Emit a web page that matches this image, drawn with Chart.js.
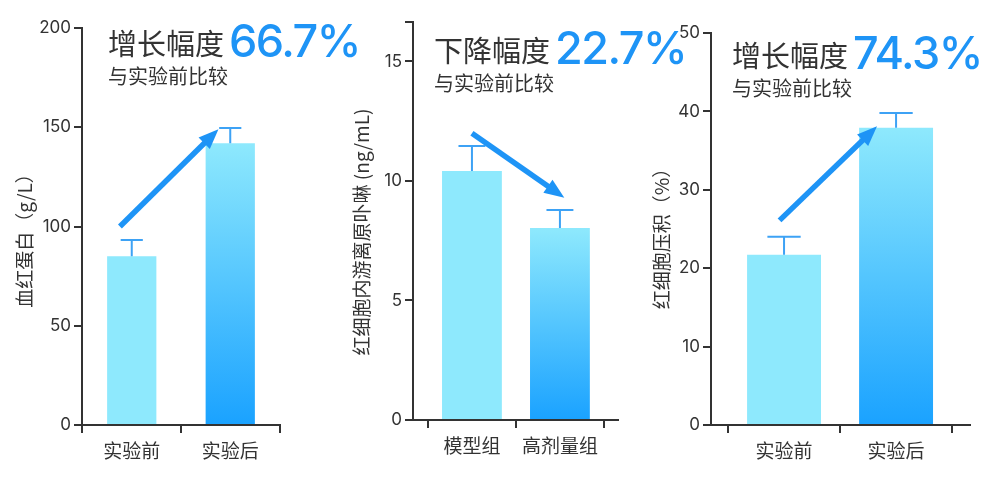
<!DOCTYPE html>
<html>
<head>
<meta charset="utf-8">
<script src="https://cdn.jsdelivr.net/npm/chart.js@4.4.0/dist/chart.umd.min.js"></script>
<style>
html,body{margin:0;padding:0;background:#fff;}
#wrap{position:relative;width:986px;height:478px;}
#wrap canvas{position:absolute;left:0;top:0;}
</style>
</head>
<body>
<div id="wrap">
  <canvas id="c1" width="986" height="478"></canvas>
  <canvas id="c2" width="986" height="478"></canvas>
  <canvas id="c3" width="986" height="478"></canvas>
</div>
<script>
// ===== DATA =====
const hbLabels = ['实验前', '实验后'];
const hbValues = [85, 142];
const hbErrors = [8.2, 7.6];
const hbTicks = [0, 50, 100, 150, 200];
const hbArrow = [[-0.12, 100], [0.88, 149]];

const zppLabels = ['模型组', '高剂量组'];
const zppValues = [10.42, 8.03];
const zppErrors = [1.04, 0.76];
const zppTicks = [0, 5, 10, 15];
const zppMax = 16.65;
const zppArrow = [[0, 12], [1.05, 9.3]];

const hctLabels = ['实验前', '实验后'];
const hctValues = [21.7, 37.9];
const hctErrors = [2.3, 1.9];
const hctTicks = [0, 10, 20, 30, 40, 50];
const hctArrow = [[-0.04, 26.1], [0.83, 38.1]];

// ===== STYLE =====
const LIGHT = '#8ee9fd';
const DEEP = '#1aa2ff';
const BLUE = '#1e94f6';
const INK = '#333333';
const FONT = "Inter, 'Noto Sans CJK SC', sans-serif";
const CJK = "'Noto Sans CJK SC', sans-serif";

Chart.defaults.font.family = FONT;
Chart.defaults.color = INK;

function barColor(c){
  if(c.dataIndex === 0) return LIGHT;
  const chart = c.chart;
  if(!chart.chartArea) return DEEP;
  const y = chart.scales.y;
  const top = y.getPixelForValue(c.raw.y);
  const g = chart.ctx.createLinearGradient(0, top, 0, y.getPixelForValue(0));
  g.addColorStop(0, LIGHT);
  g.addColorStop(1, DEEP);
  return g;
}

// error bars, arrow, headline, axis title
const decor = {
  id: 'decor',
  afterDatasetsDraw(chart, args, o){
    const ctx = chart.ctx;
    const xs = chart.scales.x, ys = chart.scales.y;
    const meta = chart.getDatasetMeta(0);

    // error bars
    ctx.save();
    ctx.strokeStyle = '#3da2f5';
    ctx.lineWidth = 2;
    meta.data.forEach((bar, i) => {
      const v = o.values[i] + o.errors[i];
      const yTop = ys.getPixelForValue(v);
      const cap = bar.width * 0.45;
      ctx.beginPath();
      ctx.moveTo(bar.x, bar.y);
      ctx.lineTo(bar.x, yTop);
      ctx.moveTo(bar.x - cap/2, yTop);
      ctx.lineTo(bar.x + cap/2, yTop);
      ctx.stroke();
    });
    ctx.restore();

    // arrow
    const x1 = xs.getPixelForValue(o.arrow[0][0]), y1 = ys.getPixelForValue(o.arrow[0][1]);
    const x2 = xs.getPixelForValue(o.arrow[1][0]), y2 = ys.getPixelForValue(o.arrow[1][1]);
    const ang = Math.atan2(y2 - y1, x2 - x1);
    const head = 20, half = 8;
    const bx = x2 - head * Math.cos(ang), by = y2 - head * Math.sin(ang);
    ctx.save();
    ctx.strokeStyle = BLUE;
    ctx.fillStyle = BLUE;
    ctx.lineWidth = 5.5;
    ctx.beginPath();
    ctx.moveTo(x1, y1);
    ctx.lineTo(bx + 4*Math.cos(ang), by + 4*Math.sin(ang));
    ctx.stroke();
    ctx.beginPath();
    ctx.moveTo(x2, y2);
    ctx.lineTo(bx + half*Math.sin(ang), by - half*Math.cos(ang));
    ctx.lineTo(bx - half*Math.sin(ang), by + half*Math.cos(ang));
    ctx.closePath();
    ctx.fill();
    ctx.restore();

    // headline
    ctx.save();
    ctx.textBaseline = 'alphabetic';
    ctx.textAlign = 'left';
    ctx.fillStyle = INK;
    ctx.font = '29px ' + CJK;
    ctx.fillText(o.title, o.tx, o.ty);
    const w = ctx.measureText(o.title).width;
    ctx.fillStyle = BLUE;
    ctx.font = '500 45px ' + FONT;
    ctx.letterSpacing = '-1.5px';
    ctx.fillText(o.pct, o.tx + w + 5, o.ty + 2);
    ctx.letterSpacing = '0px';
    ctx.fillStyle = INK;
    ctx.font = '20px ' + CJK;
    ctx.fillText('与实验前比较', o.tx, o.ty + 29);
    ctx.restore();

    // rotated y-axis title
    ctx.save();
    ctx.translate(o.yTitleX, o.yTitleY);
    ctx.rotate(-Math.PI / 2);
    ctx.textAlign = 'center';
    ctx.textBaseline = 'middle';
    ctx.fillStyle = INK;
    ctx.font = '19px ' + CJK;
    ctx.fillText(o.yTitle, 0, 0);
    ctx.restore();
  }
};

function makePanel(id, p){
  return new Chart(document.getElementById(id), {
    type: 'bar',
    data: {
      datasets: [{
        data: p.values.map((v, i) => ({x: i, y: v})),
        backgroundColor: barColor,
        borderWidth: 0,
        barPercentage: 1,
        categoryPercentage: p.barPct
      }]
    },
    options: {
      responsive: false,
      animation: false,
      events: [],
      layout: { padding: { left: p.left, right: 986 - p.right, top: p.top, bottom: 0 } },
      plugins: {
        legend: { display: false },
        tooltip: { enabled: false },
        decor: {
          values: p.values, errors: p.errors, arrow: p.arrow,
          title: p.title, pct: p.pct, tx: p.tx, ty: p.ty,
          yTitle: p.yTitle, yTitleX: p.yTitleX, yTitleY: p.yTitleY
        }
      },
      scales: {
        x: {
          type: 'linear',
          min: p.xMin, max: p.xMax,
          offset: false,
          afterFit: s => { s.height = 478 - p.bottom; },
          afterBuildTicks: s => { s.ticks = p.labels.map((l, i) => ({value: i})); },
          ticks: {
            autoSkip: false, maxRotation: 0, padding: 6,
            font: { size: 19, family: CJK }, color: INK,
            callback: v => p.labels[v]
          },
          grid: { drawOnChartArea: false, drawTicks: true, tickLength: 8, color: INK, lineWidth: 2 },
          border: { display: true, color: INK, width: 2 }
        },
        y: {
          min: 0, max: p.max,
          afterFit: s => { s.width = p.yWidth; },
          afterBuildTicks: s => {
            const t = p.ticks.map(v => ({value: v}));
            if(p.ticks[p.ticks.length - 1] !== p.max) t.push({value: p.max});
            s.ticks = t;
          },
          ticks: {
            padding: 3, font: { size: 17 }, color: INK,
            callback: v => p.ticks.includes(v) ? String(v) : ''
          },
          grid: { drawOnChartArea: false, drawTicks: true, tickLength: 8, color: INK, lineWidth: 2 },
          border: { display: true, color: INK, width: 2 },
          title: { display: false }
        }
      }
    },
    plugins: [decor]
  });
}

makePanel('c1', {
  labels: hbLabels, values: hbValues, errors: hbErrors, ticks: hbTicks, max: 200,
  arrow: hbArrow, yTitle: '血红蛋白（g/L）', yTitleX: 25, yTitleY: 236,
  title: '增长幅度', pct: '66.7%', tx: 108, ty: 55,
  left: 10, yWidth: 72, right: 280, top: 28, bottom: 425,
  xMin: -0.505, xMax: 1.505, barPct: 0.5
});

makePanel('c2', {
  labels: zppLabels, values: zppValues, errors: zppErrors, ticks: zppTicks, max: zppMax,
  arrow: zppArrow, yTitle: '红细胞内游离原卟啉 (ng/mL)', yTitleX: 362, yTitleY: 232,
  title: '下降幅度', pct: '22.7%', tx: 434, ty: 62,
  left: 347, yWidth: 66, right: 618, top: 22, bottom: 420,
  xMin: -0.67, xMax: 1.66, barPct: 0.68
});

makePanel('c3', {
  labels: hctLabels, values: hctValues, errors: hctErrors, ticks: hctTicks, max: 50,
  arrow: hctArrow, yTitle: '红细胞压积（%）', yTitleX: 662, yTitleY: 234,
  title: '增长幅度', pct: '74.3%', tx: 732, ty: 67,
  left: 647, yWidth: 64, right: 970, top: 33, bottom: 425,
  xMin: -0.652, xMax: 1.66, barPct: 0.66
});
</script>
</body>
</html>
